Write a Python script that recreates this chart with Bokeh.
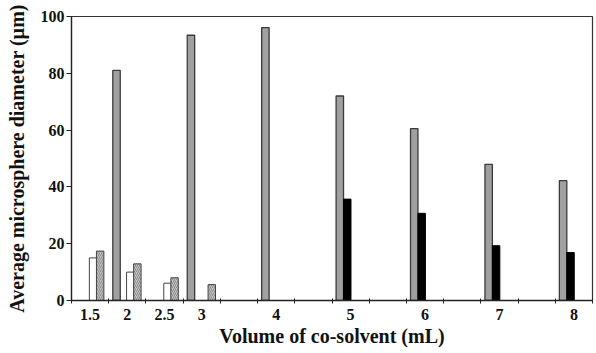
from bokeh.plotting import figure
from bokeh.models import Range1d, FixedTicker, ColumnDataSource
from bokeh.embed import file_html
from bokeh.resources import INLINE

# ---- data ----
categories = ["1.5", "2", "2.5", "3", "3.5", "4", "4.5", "5", "5.5", "6", "6.5", "7", "7.5", "8"]
labeled = ["1.5", "2", "2.5", "3", "4", "5", "6", "7", "8"]
grey_vals = [None, 81.0, None, 93.4, None, 96.1, None, 72.0, None, 60.5, None, 47.9, None, 42.2]
black_vals = [None, None, None, None, None, None, None, 35.7, None, 30.7, None, 19.3, None, 16.9]
white_vals = [15.0, 10.0, 6.1, None, None, None, None, None, None, None, None, None, None, None]
hatched_vals = [17.4, 12.9, 8.0, 5.6, None, None, None, None, None, None, None, None, None, None]
y_ticks = [0, 20, 40, 60, 80, 100]

FONT = "Liberation Serif"

p = figure(width=594, height=349, output_backend="svg", toolbar_location=None,
           min_border_left=71, min_border_right=2, min_border_top=16, min_border_bottom=47)
p.x_range = Range1d(-0.5, len(categories) - 0.5)
p.y_range = Range1d(0, 100)
p.grid.visible = False
p.outline_line_color = "#333333"
p.outline_line_width = 1.2
p.background_fill_color = "white"
p.border_fill_color = "white"


def src(vals, offset):
    xs, tops = [], []
    for i, v in enumerate(vals):
        if v is not None:
            xs.append(i + offset)
            tops.append(v)
    return ColumnDataSource(dict(x=xs, top=tops))


W = 0.2
p.vbar(x="x", top="top", width=W, source=src(grey_vals, -0.29),
       fill_color="#a0a0a0", line_color="#3a3a3a", line_width=1.3)
p.vbar(x="x", top="top", width=W, source=src(black_vals, -0.09),
       fill_color="#000000", line_color="#000000", line_width=1)
p.vbar(x="x", top="top", width=W, source=src(white_vals, 0.08),
       fill_color="#ffffff", line_color="#444444", line_width=1)
p.vbar(x="x", top="top", width=W, source=src(hatched_vals, 0.27),
       fill_color="#c4c4c4", line_color="#444444", line_width=1,
       hatch_pattern="/", hatch_color="#8a8a8a", hatch_scale=4, hatch_weight=1)

# x axis: labels at category centres, tick marks at category boundaries
centers = [categories.index(c) for c in labeled]
p.xaxis.ticker = FixedTicker(ticks=centers,
                             minor_ticks=[i - 0.5 for i in range(len(categories) + 1)])
p.xaxis.major_label_overrides = {categories.index(c): c for c in labeled}
p.xaxis.major_tick_out = 0
p.xaxis.major_tick_in = 0
p.xaxis.minor_tick_out = 3
p.xaxis.minor_tick_in = 2
p.xaxis.minor_tick_line_color = "#222222"
p.xaxis.axis_label = "Volume of co-solvent (mL)"

p.yaxis.ticker = FixedTicker(ticks=y_ticks)
p.yaxis.major_tick_out = 5
p.yaxis.major_tick_in = 0
p.yaxis.minor_tick_out = 0
p.yaxis.minor_tick_in = 0
p.yaxis.axis_label = "Average microsphere diameter (µm)"

for ax in (p.xaxis[0], p.yaxis[0]):
    ax.axis_line_color = "#222222"
    ax.axis_line_width = 1.3
    ax.major_tick_line_color = "#222222"
    ax.major_label_text_font = FONT
    ax.major_label_text_font_style = "bold"
    ax.major_label_text_font_size = "16px"
    ax.major_label_text_color = "#111111"
    ax.axis_label_text_font = FONT
    ax.axis_label_text_font_style = "bold"
    ax.axis_label_text_font_size = "20px"
    ax.axis_label_text_color = "#111111"

p.xaxis.major_label_standoff = 5
p.xaxis.axis_label_standoff = 2
p.yaxis.major_label_standoff = 2
p.yaxis.axis_label_standoff = 10

open("out.html", "w").write(file_html(p, INLINE))
